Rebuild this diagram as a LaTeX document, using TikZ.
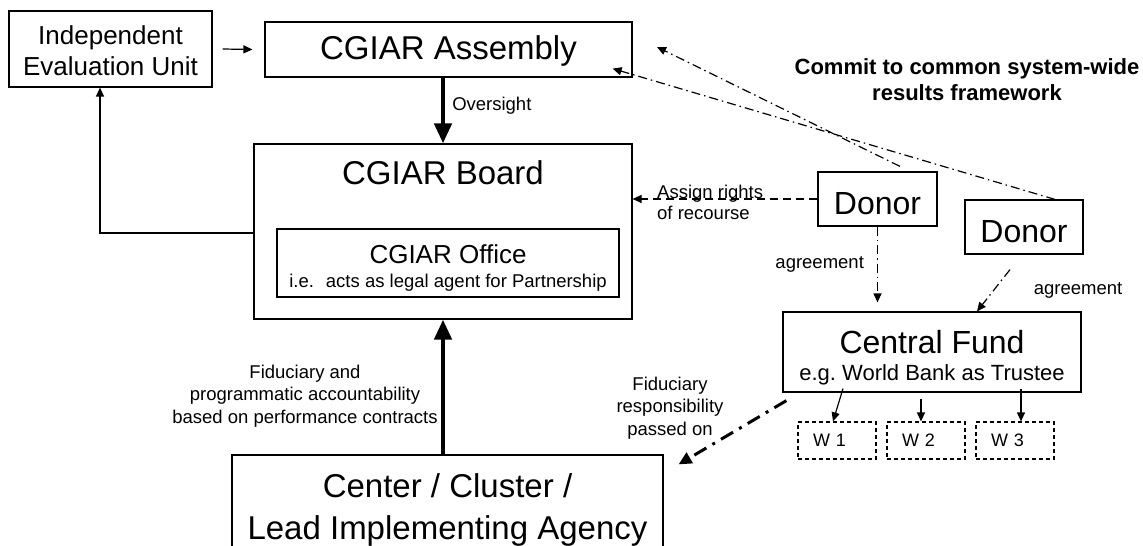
\documentclass[tikz,border=0pt]{standalone}
\usepackage{fontspec}
\setmainfont{Liberation Sans}
\usetikzlibrary{arrows.meta,positioning}

\tikzset{
    box/.style={draw, rectangle, line width=1.2pt, inner sep=0pt, align=center},
    wbox/.style={box, dash pattern=on 4pt off 3pt, minimum height=37pt, text width=48pt,
        inner xsep=15pt, align=left, font=\fontsize{18}{22}\selectfont},
    lbl/.style={inner sep=0pt, align=center, font=\fontsize{18.5}{22.5}\selectfont},
    arr/.style={line width=1.2pt, -{Triangle[length=9pt,width=8pt]}},
    heavy/.style={line width=4.5pt, -{Triangle[length=20pt,width=17pt]}},
    dashdot/.style={arr, dash pattern=on 9pt off 4pt on 1.5pt off 4pt},
}

\begin{document}
\begin{tikzpicture}[x=1pt,y=-1pt]
    \useasboundingbox (0,0) rectangle (1143,546);

    % boxes
    \node[box, minimum width=203pt, minimum height=76pt, font=\fontsize{26}{31}\selectfont]
        (ieu) at (110.5,49) {\rule{0pt}{22pt}Independent\\Evaluation Unit};
    \node[box, minimum width=367pt, minimum height=55pt, font=\fontsize{33}{40}\selectfont]
        (assembly) at (448.5,49.5) {\rule{0pt}{27pt}CGIAR Assembly};
    \node[box, minimum width=378pt, minimum height=175pt] (board) at (443,231.5) {};
    \node[inner sep=0pt, font=\fontsize{33}{40}\selectfont] (boardname) at (443,173) {CGIAR Board};
    \node[box, minimum width=342pt, minimum height=68pt, font=\fontsize{18.5}{24}\selectfont]
        (office) at (448,263) {{\fontsize{26}{30}\selectfont\rule{0pt}{29pt}CGIAR Office}\\i.e.~ acts as legal agent for Partnership};
    \node[box, minimum width=431pt, minimum height=109pt, font=\fontsize{33}{42}\selectfont]
        (agency) at (447.5,509.5) {Center / Cluster /\\Lead Implementing Agency};
    \node[box, minimum width=119pt, minimum height=54pt, font=\fontsize{32}{38}\selectfont]
        (donor1) at (877.5,199) {\rule{0pt}{31pt}Donor};
    \node[box, minimum width=118pt, minimum height=54pt, font=\fontsize{32}{38}\selectfont]
        (donor2) at (1024,227) {\rule{0pt}{31pt}Donor};
    \node[box, minimum width=298pt, minimum height=80pt, font=\fontsize{22}{27}\selectfont]
        (fund) at (932,352) {{\fontsize{32}{38}\selectfont\rule{0pt}{34pt}Central Fund}\\e.g.\ World Bank as Trustee};
    \foreach \i/\x in {1/837,2/926,3/1015}
        \node[wbox] (w\i) at (\x,440.5) {W \i};

    \node[inner sep=0pt, align=center, font=\bfseries\fontsize{22}{26}\selectfont]
        (commit) at (967,80) {Commit to common system-wide\\results framework};

    % connectors
    \draw[arr] ([xshift=10pt]ieu.east) -- ([xshift=-12pt]assembly.west);
    \draw[heavy] (board.north |- assembly.south) -- (board.north)
        node[lbl, midway, anchor=west, xshift=7pt, yshift=5pt] (oversight) {Oversight};
    \draw[heavy] (board.south |- agency.north) -- (board.south);
    \node[lbl] (fidacc) at (305,396) {Fiduciary and\\programmatic accountability\\based on performance contracts};
    \draw[arr] ([yshift=-1.5pt]board.west) -| ([xshift=-10.5pt]ieu.south);

    \draw[arr, dash pattern=on 8pt off 5pt] (donor1.west) -- (donor1.west -| board.east);
    \node[lbl, anchor=west, align=left, font=\fontsize{18.5}{21.5}\selectfont]
        (assign) at (657,202.5) {Assign rights\\of recourse};

    \coordinate (commit1) at (657,47);
    \draw[dashdot] ([xshift=22.5pt,yshift=5pt]donor1.north) -- (commit1);
    \draw[dashdot] ([xshift=31pt]donor2.north) -- ([xshift=-20pt,yshift=9pt]assembly.south east);

    \draw[dashdot] (donor1.south) -- ([yshift=9pt]donor1.south |- fund.north)
        node[lbl, midway, left=13pt] (agree1) {agreement};
    \draw[dashdot] ([xshift=-14pt,yshift=-15pt]donor2.south) -- ([xshift=45pt]fund.north);
    \node[lbl] (agree2) at (1078,290) {agreement};

    \draw[arr] ([xshift=-89pt,yshift=4pt]fund.south) -- ([xshift=-4pt]w1.north);
    \draw[arr] ([xshift=-5pt,yshift=22pt]w2.north) -- ([xshift=-5pt]w2.north);
    \draw[arr] ([xshift=6pt,yshift=4pt]w3.north |- fund.south) -- ([xshift=6pt]w3.north);

    \draw[line width=3pt, dash pattern=on 14pt off 7pt on 3pt off 7pt, -{Triangle[length=13pt,width=12pt]}]
        ([xshift=4pt,yshift=-8pt]fund.south west) -- ([xshift=15pt,yshift=-10pt]agency.north east);
    \node[lbl] (fidresp) at (670,408) {Fiduciary\\responsibility\\passed on};
\end{tikzpicture}
\end{document}
